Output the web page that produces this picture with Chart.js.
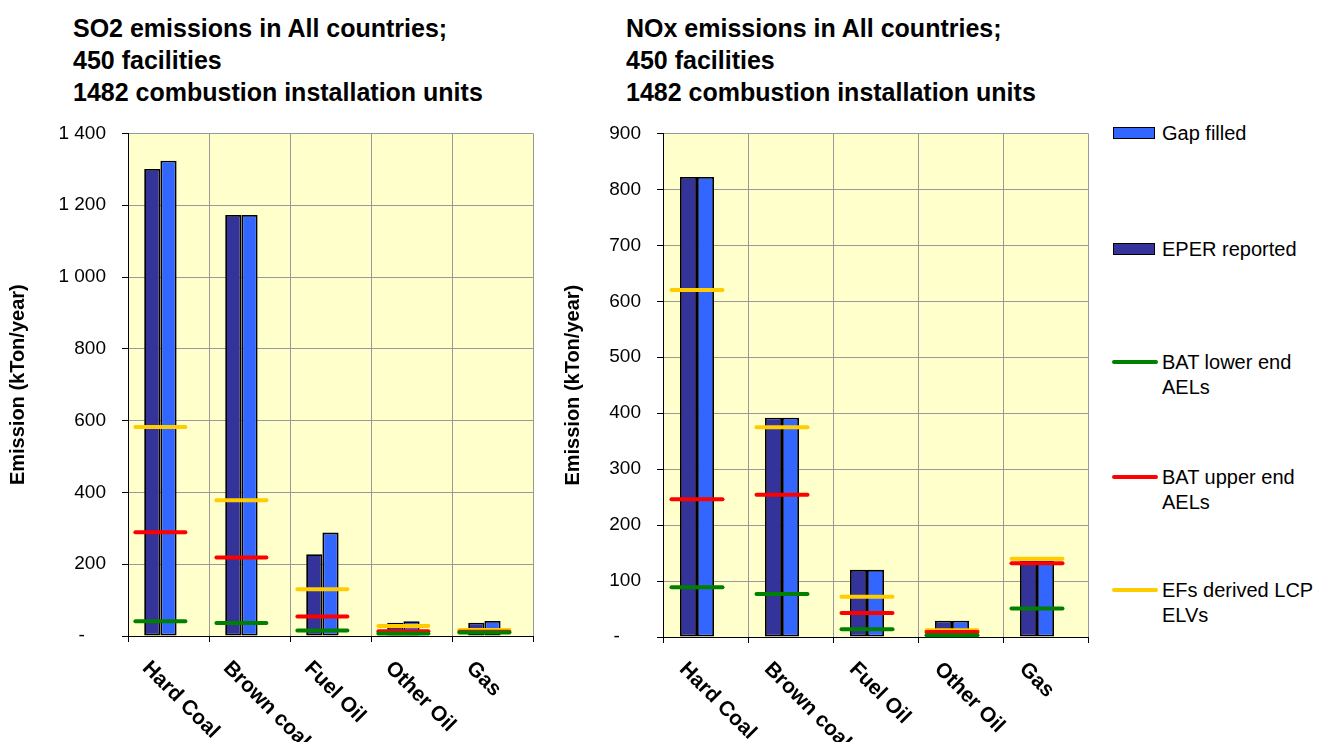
<!DOCTYPE html>
<html>
<head>
<meta charset="utf-8">
<script src="https://cdn.jsdelivr.net/npm/chart.js@4.4.1/dist/chart.umd.min.js"></script>
<style>
  body { margin: 0; width: 1317px; height: 742px; background: #fff; position: relative; overflow: hidden;
         font-family: 'Liberation Sans', Arial, sans-serif; color: #000; }
  .title { position: absolute; top: 12px; font-weight: bold; font-size: 25px; line-height: 32px; white-space: nowrap; }
  canvas { position: absolute; top: 106px; }
  .item { position: absolute; left: 1112px; display: flex; align-items: flex-start; font-size: 20px; line-height: 25px; }
  .box { width: 42px; height: 12px; box-sizing: border-box; border: 1px solid #000; margin: 6.5px 7px 0 1px; }
  .line { width: 46px; height: 4px; border-radius: 2px; margin: 10.5px 4px 0 0; }
</style>
</head>
<body>
<div class="title" style="left:73px">SO2 emissions in All countries;<br>450 facilities<br>1482 combustion installation units</div>
<div class="title" style="left:626px">NOx emissions in All countries;<br>450 facilities<br>1482 combustion installation units</div>

<canvas id="so2" width="545" height="636" style="left:0px"></canvas>
<canvas id="nox" width="545" height="636" style="left:555px"></canvas>

<div class="item" style="top:120.5px"><div class="box" style="background:#3366FF"></div><div>Gap filled</div></div>
<div class="item" style="top:236.5px"><div class="box" style="background:#333399"></div><div>EPER reported</div></div>
<div class="item" style="top:349.5px"><div class="line" style="background:#008000"></div><div>BAT lower end<br>AELs</div></div>
<div class="item" style="top:464.5px"><div class="line" style="background:#FF0000"></div><div>BAT upper end<br>AELs</div></div>
<div class="item" style="top:577.5px"><div class="line" style="background:#FFCC00"></div><div>EFs derived LCP<br>ELVs</div></div>

<script>
const categories = ['Hard Coal', 'Brown coal', 'Fuel Oil', 'Other Oil', 'Gas'];

// SO2, kTon/year
const so2Eper = [1301, 1173, 228, 37, 37];
const so2GapFilled = [1324, 1173, 288, 41, 42];
const so2BatLower = [41, 36, 15, 7, 10];
const so2BatUpper = [289, 219, 54, 13, 12];
const so2EfsElv = [582, 378, 130, 28, 17];

// NOx, kTon/year
const noxEper = [822, 392, 120, 29, 136];
const noxGapFilled = [822, 392, 120, 29, 136];
const noxBatLower = [89, 77, 14, 3, 51];
const noxBatUpper = [246, 254, 43, 9, 132];
const noxEfsElv = [620, 375, 72, 12, 140];

const FONT = "'Liberation Sans', Arial, sans-serif";
Chart.defaults.font.family = FONT;
Chart.defaults.color = '#000';

// yellow plot area
const plotBg = {
  id: 'plotBg',
  beforeDraw(chart) {
    const { ctx, chartArea: a } = chart;
    ctx.save();
    ctx.fillStyle = '#FFFFCC';
    ctx.fillRect(a.left, a.top, a.width, a.height);
    ctx.restore();
  }
};

// level markers sit on the seam between the two visible bars
const pairCenter = {
  id: 'pairCenter',
  afterDatasetsUpdate(chart) {
    const bars = chart.getDatasetMeta(0).data;
    chart.data.datasets.forEach((ds, i) => {
      if (ds.type !== 'line') return;
      chart.getDatasetMeta(i).data.forEach((pt, j) => {
        pt.x = bars[j].x + bars[j].width / 2;
      });
    });
  },
  beforeDatasetsDraw(chart) { chart.ctx.lineCap = 'round'; },
  afterDatasetsDraw(chart) { chart.ctx.lineCap = 'butt'; }
};

// category names slanted downwards
const slantedLabels = {
  id: 'slantedLabels',
  afterDraw(chart) {
    const x = chart.scales.x;
    const ctx = chart.ctx;
    ctx.save();
    ctx.font = 'bold 21px ' + FONT;
    ctx.fillStyle = '#000';
    ctx.textAlign = 'left';
    ctx.textBaseline = 'middle';
    chart.data.labels.forEach((lab, i) => {
      ctx.save();
      ctx.translate(x.getPixelForValue(i) - 23, x.top + 29);
      ctx.rotate(Math.PI / 4);
      ctx.fillText(lab, 0, 0);
      ctx.restore();
    });
    ctx.restore();
  }
};

function fmt(v) {
  if (v === 0) return '-    ';
  return String(v).replace(/\B(?=(\d{3})+(?!\d))/g, ' ');
}

function level(label, data, color, order, radius) {
  return {
    type: 'line', label, data, order,
    showLine: false, clip: false,
    pointStyle: 'line', pointRadius: radius, pointHoverRadius: radius,
    pointBorderWidth: 4, pointBorderColor: color, pointBackgroundColor: color,
    borderColor: color
  };
}

function makeChart(id, eper, gap, lower, upper, efs, max, step, axisWidth, axisHeight, radius) {
  return new Chart(document.getElementById(id), {
    type: 'bar',
    data: {
      labels: categories,
      datasets: [
        { label: 'EPER reported', data: eper, backgroundColor: '#333399', order: 10 },
        { label: 'Gap filled', data: gap, backgroundColor: '#3366FF', order: 10 },
        { label: '', data: eper.map(() => null), order: 10 },
        level('EFs derived LCP ELVs', efs, '#FFCC00', 3, radius),
        level('BAT upper end AELs', upper, '#FF0000', 2, radius),
        level('BAT lower end AELs', lower, '#008000', 1, radius)
      ]
    },
    options: {
      responsive: false,
      animation: false,
      events: [],
      layout: { autoPadding: false, padding: { top: 19, right: 12, left: 0, bottom: 0 } },
      datasets: {
        bar: {
          categoryPercentage: 0.6, barPercentage: 1,
          borderColor: '#000', borderWidth: 1.8, borderSkipped: false
        }
      },
      plugins: { legend: { display: false }, tooltip: { enabled: false } },
      scales: {
        x: {
          grid: { color: '#999', tickColor: '#000', tickLength: 6, offset: true },
          border: { color: '#000', width: 1 },
          ticks: { display: false },
          afterFit: (s) => { s.height = axisHeight; }
        },
        y: {
          min: 0, max,
          grid: { color: '#999', tickColor: '#000', tickLength: 6 },
          border: { color: '#000', width: 1 },
          ticks: { stepSize: step, padding: 16, font: { size: 19 }, callback: fmt },
          title: { display: true, text: 'Emission (kTon/year)', font: { size: 20, weight: 'bold' },
                   padding: { top: 6, bottom: 0 } },
          afterFit: (s) => { s.width = axisWidth; }
        }
      }
    },
    plugins: [plotBg, pairCenter, slantedLabels]
  });
}

makeChart('so2', so2Eper, so2GapFilled, so2BatLower, so2BatUpper, so2EfsElv, 1400, 200, 128, 106, 25);
makeChart('nox', noxEper, noxGapFilled, noxBatLower, noxBatUpper, noxEfsElv, 900, 100, 108, 105, 25.5);
</script>
</body>
</html>
